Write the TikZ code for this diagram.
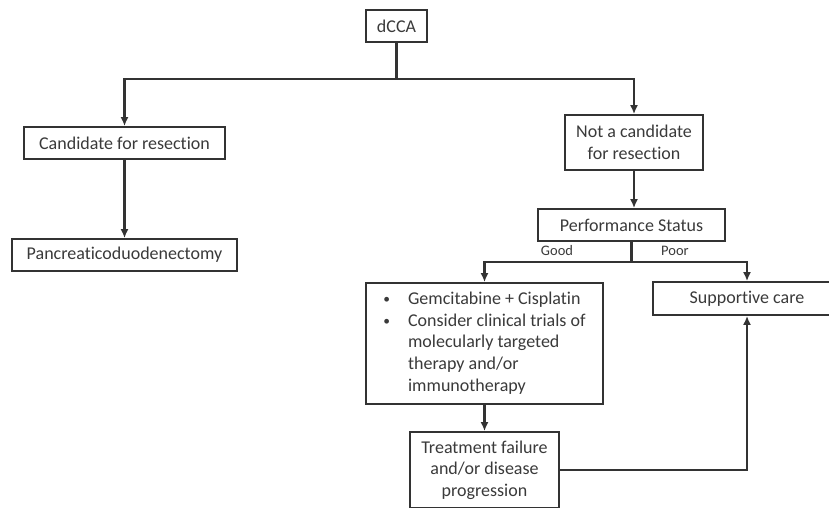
\documentclass[tikz,border=0pt]{standalone}
\usepackage{fontspec}
\setmainfont{Carlito}[Ligatures=NoCommon]
\usetikzlibrary{arrows.meta}
\definecolor{ink}{HTML}{333333}
\definecolor{txt}{HTML}{3A3A3A}
\tikzset{
  box/.style={draw=ink, line width=1.8pt, text=txt, inner sep=0pt, align=center,
    font=\fontsize{18}{21.7}\selectfont},
  arr/.style={draw=ink, line width=2.4pt, -{Latex[length=9pt,width=8pt]}},
  ln/.style={draw=ink, line width=2.4pt},
  lbl/.style={text=txt, inner sep=0pt, font=\fontsize{14.5}{16}\selectfont}
}
\newcommand{\smallbul}{\raisebox{1pt}{\scalebox{0.75}{\textbullet}}}
\begin{document}
\begin{tikzpicture}[x=1pt,y=-1pt]
\clip (0,0) rectangle (829,507);
\fill[white] (0,0) rectangle (829,507);
\node[box, minimum width=61pt, minimum height=32pt] (dcca) at (396.5,26) {dCCA};
\node[box, minimum width=201pt, minimum height=32pt] (cand) at (124.5,143) {Candidate for resection};
\node[box, minimum width=225pt, minimum height=32pt] (panc) at (124.5,255) {Pancreaticoduodenectomy};
\node[box, minimum width=138pt, minimum height=55pt] (notc) at (634,142.5) {Not a candidate\\for resection};
\node[box, minimum width=187pt, minimum height=32pt] (ps) at (631.5,225) {Performance Status};
\node[box, minimum width=237pt, minimum height=121pt] (gem) at (484.5,343.5)
  {\begin{tabular}{@{}l@{\hspace{18pt}}l@{}}
   \smallbul & Gemcitabine + Cisplatin\\
   \smallbul & Consider clinical trials of\\
   & molecularly targeted\\
   & therapy and/or\\
   & immunotherapy
   \end{tabular}};
\node[box, minimum width=188pt, minimum height=33pt] (sup) at (747,298.5) {Supportive care};
\node[box, minimum width=149pt, minimum height=76pt] (treat) at (484.5,470) {Treatment failure\\and/or disease\\progression};
\node[lbl] (good) at (557,251) {Good};
\node[lbl] (poor) at (675,251) {Poor};
\coordinate (j1) at (396.5,79);
\coordinate (j2) at (631.5,262);
\draw[ln] (dcca.south) -- (j1);
\draw[arr] (j1) -| (cand);
\draw[arr] (j1) -| (notc);
\draw[arr] (cand) -- (panc);
\draw[arr] (notc) -- (notc |- ps.north);
\draw[ln] (ps.south) -- (j2);
\draw[arr] (j2) -| (gem);
\draw[arr] (j2) -| (sup);
\draw[arr] (gem) -- (treat);
\draw[arr] (treat.east) -| (sup.south);
\end{tikzpicture}
\end{document}
